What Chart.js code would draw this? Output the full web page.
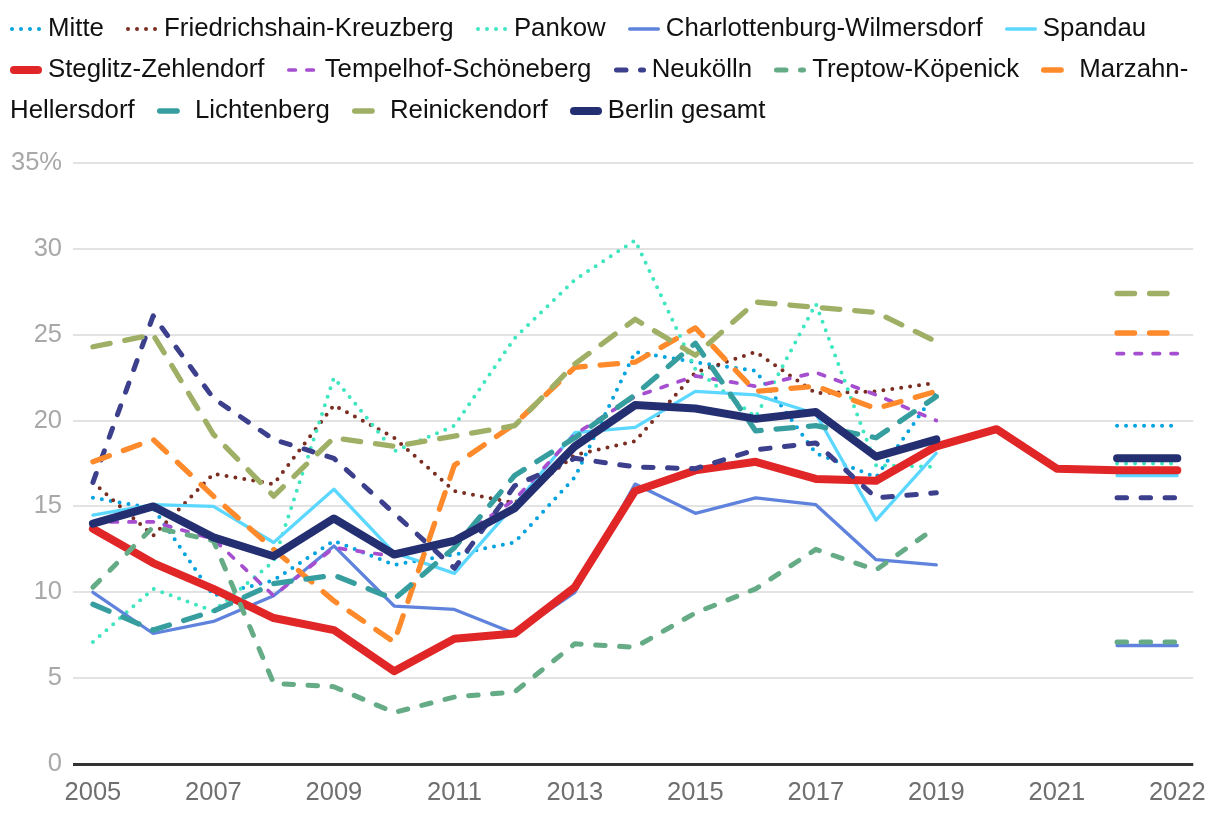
<!DOCTYPE html>
<html>
<head>
<meta charset="utf-8">
<title>Berlin Bezirke</title>
<script src="https://cdn.jsdelivr.net/npm/chart.js@4"></script>
<style>
    html, body { margin: 0; padding: 0; background: #fff; }
    #wrap   { position: relative; width: 1220px; height: 816px; }
    #legend { position: absolute; left: 10px; top: 7px; width: 1205px;
              font: 25.8px/41px "Liberation Sans", Arial, sans-serif; color: #111; }
    .it     { margin-right: 15px; }
    .nw     { white-space: nowrap; }
    .it svg { vertical-align: middle; margin-right: 6px; }
</style>
</head>
<body>
<div id="wrap">
    <canvas id="chart" width="1220" height="816"></canvas>
    <div id="legend"></div>
</div>
<script>
// x categories, the empty one only carries the left end of the 2022 strokes
const years = ['2005', '2006', '2007', '2008', '2009', '2010', '2011', '2012', '2013',
               '2014', '2015', '2016', '2017', '2018', '2019', '2020', '2021', '', '2022'];
const yTicks = [0, 5, 10, 15, 20, 25, 30, 35];

const mitte          = [15.5, 14.9, 9.8, 10.7, 13.0, 11.6, 12.2, 12.9, 16.7, 24.0, 23.4, 22.9, 18.1, 16.7, 21.7, null, null, 19.7, 19.7];
const friedrichshain = [16.4, 13.3, 16.9, 16.3, 20.9, 19.0, 15.9, 15.2, 18.0, 18.8, 22.8, 24.0, 21.6, 21.7, 22.2, null, null, null, null];
const pankow         = [7.1, 10.2, 8.9, 11.8, 22.5, 18.2, 19.7, 24.8, 28.2, 30.5, 23.0, 20.2, 26.8, 17.4, 17.3, null, null, 17.5, 17.5];
const charlottenburg = [10.0, 7.6, 8.3, 9.8, 12.7, 9.2, 9.0, 7.6, 10.0, 16.3, 14.6, 15.5, 15.1, 11.9, 11.6, null, null, 6.9, 6.9];
const spandau        = [14.5, 15.1, 15.0, 12.9, 16.0, 12.3, 11.1, 15.1, 19.3, 19.6, 21.7, 21.5, 20.4, 14.2, 18.1, null, null, 16.8, 16.8];
const steglitz       = [13.7, 11.7, 10.2, 8.5, 7.8, 5.4, 7.3, 7.6, 10.3, 15.9, 17.1, 17.6, 16.6, 16.5, 18.5, 19.5, 17.2, 17.1, 17.1];
const tempelhof      = [14.1, 14.1, 13.1, 9.8, 12.6, 12.1, 13.0, 15.4, 19.2, 21.4, 22.6, 22.0, 22.8, 21.5, 20.0, null, null, 23.9, 23.9];
const neukoelln      = [16.4, 26.1, 21.3, 18.9, 17.8, 14.6, 11.4, 16.2, 17.8, 17.3, 17.2, 18.3, 18.7, 15.5, 15.8, null, null, 15.5, 15.5];
const treptow        = [10.3, 13.8, 13.0, 4.7, 4.5, 3.0, 3.9, 4.2, 7.0, 6.8, 8.8, 10.2, 12.5, 11.3, 13.8, null, null, 7.1, 7.1];
const marzahn        = [17.6, 18.9, 15.6, 12.5, 9.5, 7.1, 17.4, 19.8, 23.1, 23.4, 25.4, 21.7, 22.0, 20.7, 21.7, null, null, 25.1, 25.1];
const lichtenberg    = [9.3, 7.8, 8.9, 10.5, 11.0, 9.6, 12.6, 16.8, 19.0, 21.5, 24.5, 19.4, 19.7, 19.0, 21.4, null, null, null, null];
const reinickendorf  = [24.3, 25.0, 19.2, 15.6, 19.0, 18.5, 19.1, 19.7, 23.3, 25.9, 23.8, 26.9, 26.6, 26.3, 24.6, null, null, 27.4, 27.4];
const berlin         = [14.0, 15.0, 13.2, 12.1, 14.3, 12.2, 13.0, 14.9, 18.5, 20.9, 20.7, 20.1, 20.5, 17.9, 18.9, null, null, 17.8, 17.8];

// line styles
const DOT   = { width: 4,   dash: [0, 9] };
const SHORT = { width: 3.7, dash: [6.5, 11.5] };
const MID   = { width: 5,   dash: [9.5, 14.5] };
const LONG  = { width: 5.3, dash: [17.5, 15] };
const THIN  = { width: 3.3, dash: [] };
const THICK = { width: 8,   dash: [] };

const series = [
    { name: 'Mitte',                      values: mitte,          color: '#00a3e0', style: DOT },
    { name: 'Friedrichshain-Kreuzberg',   values: friedrichshain, color: '#7a2e22', style: DOT },
    { name: 'Pankow',                     values: pankow,         color: '#3fe6c0', style: DOT },
    { name: 'Charlottenburg-Wilmersdorf', values: charlottenburg, color: '#5f83dd', style: THIN },
    { name: 'Spandau',                    values: spandau,        color: '#5cd7ff', style: THIN },
    { name: 'Steglitz-Zehlendorf',        values: steglitz,       color: '#e02626', style: THICK },
    { name: 'Tempelhof-Schöneberg',       values: tempelhof,      color: '#a54fd0', style: SHORT },
    { name: 'Neukölln',                   values: neukoelln,      color: '#3b3f8c', style: MID },
    { name: 'Treptow-Köpenick',           values: treptow,        color: '#64ab86', style: MID },
    { name: 'Marzahn-Hellersdorf',        values: marzahn,        color: '#ff8a2b', style: LONG },
    { name: 'Lichtenberg',                values: lichtenberg,    color: '#379e9f', style: LONG },
    { name: 'Reinickendorf',              values: reinickendorf,  color: '#9fb066', style: LONG },
    { name: 'Berlin gesamt',              values: berlin,         color: '#242f72', style: THICK }
];

const FONT = '"Liberation Sans", Arial, sans-serif';
Chart.defaults.font.family = FONT;
Chart.defaults.font.size = 25.5;

new Chart(document.getElementById('chart'), {
    type: 'line',
    data: {
        datasets: series.map((s, i) => ({
            label: s.name,
            data: s.values.map((v, j) => ({ x: j, y: v })),
            borderColor: s.color,
            borderWidth: s.style.width,
            borderDash: s.style.dash,
            borderCapStyle: 'round',
            borderJoinStyle: 'round',
            pointRadius: 0,
            pointHoverRadius: 0,
            tension: 0,
            fill: false,
            // later series are painted over earlier ones
            order: series.length - i
        }))
    },
    options: {
        responsive: false,
        animation: false,
        events: [],
        layout: { padding: { top: 163, right: 24, bottom: 0, left: 0 } },
        plugins: { legend: { display: false }, tooltip: { enabled: false } },
        scales: {
            x: {
                type: 'linear',
                bounds: 'data',
                min: -0.331,
                max: 18.265,
                grid: { display: false, drawTicks: false },
                border: { display: false },
                afterBuildTicks: axis => {
                    axis.ticks = years
                        .map((y, i) => ({ value: i }))
                        .filter(t => t.value % 2 === 0 && years[t.value] !== '');
                },
                afterFit: scale => { scale.height = 52; },
                ticks: {
                    autoSkip: false,
                    maxRotation: 0,
                    padding: 14,
                    color: '#6f6f6f',
                    callback: v => years[v]
                }
            },
            y: {
                min: yTicks[0],
                max: yTicks[yTicks.length - 1],
                border: { display: false },
                grid: {
                    drawTicks: false,
                    color: c => c.tick.value === 0 ? '#333333' : '#e3e3e3',
                    lineWidth: c => c.tick.value === 0 ? 3 : 2
                },
                afterBuildTicks: axis => { axis.ticks = yTicks.map(v => ({ value: v })); },
                afterFit: scale => { scale.width = 73; },
                ticks: {
                    padding: 11,
                    color: '#a8a8a8',
                    callback: v => v === 35 ? '35%' : v
                }
            }
        }
    }
});

// HTML legend, wraps like running text (Marzahn-|Hellersdorf)
const legendHtml = series.map(s => {
    const cut  = s.name.indexOf('-');
    const head = cut >= 0 ? s.name.slice(0, cut + 1) : s.name;
    const tail = cut >= 0 ? s.name.slice(cut + 1) : '';
    const w    = s.style.width;
    const dash = s.style.dash.length ? `stroke-dasharray="${s.style.dash.join(' ')}"` : '';
    const svg  = `<svg width="32" height="12"><line x1="${w / 2}" y1="6" x2="${32 - w / 2}" y2="6" ` +
                 `stroke="${s.color}" stroke-width="${w}" stroke-linecap="round" ${dash}/></svg>`;
    return `<span class="it"><span class="nw">${svg}${head}</span>${tail}</span>`;
}).join(' ');
document.getElementById('legend').innerHTML = legendHtml;
</script>
</body>
</html>
